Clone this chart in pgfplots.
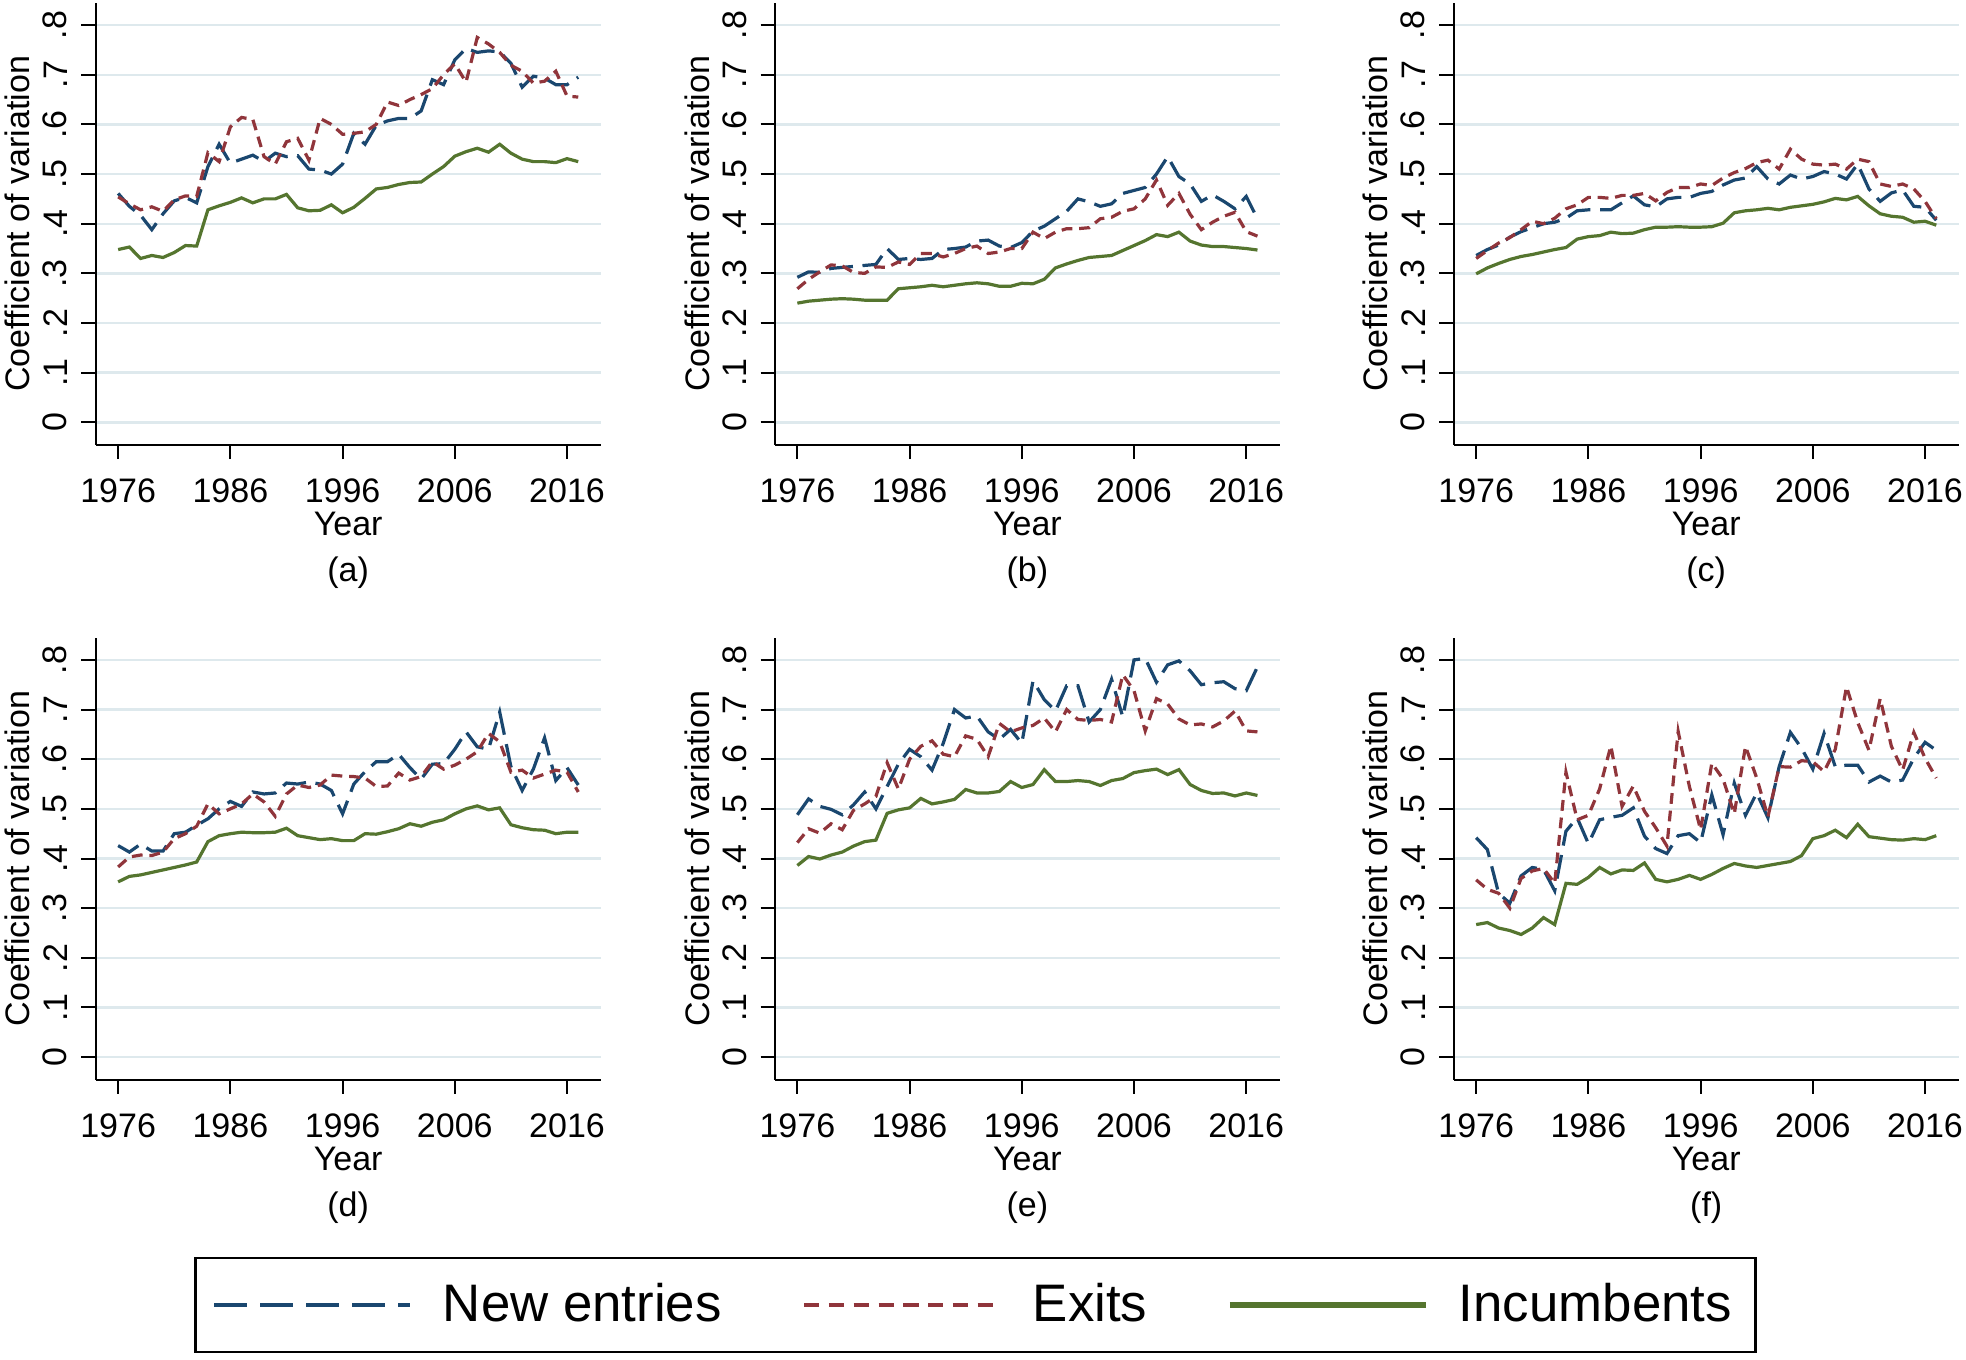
\documentclass[border=0pt]{standalone}
\usepackage{fontspec}
\setmainfont{Liberation Sans}
\usepackage{pgfplots}
\usepackage{pgfplotstable}
\pgfplotsset{compat=1.18}

\definecolor{snavy}{RGB}{26,71,111}
\definecolor{smaroon}{RGB}{144,53,59}
\definecolor{sgreen}{RGB}{85,117,47}
\definecolor{sgrid}{RGB}{222,233,237}
\newcommand\labfont{\fontsize{8.5}{10}\selectfont}

\pgfplotstableread{
year new exit inc
1976 .461 .454 .348
1977 .435 .440 .353
1978 .417 .428 .330
1979 .388 .434 .336
1980 .420 .425 .332
1981 .446 .448 .342
1982 .453 .456 .356
1983 .442 .455 .355
1984 .515 .543 .428
1985 .560 .525 .436
1986 .522 .595 .443
1987 .530 .614 .452
1988 .538 .610 .442
1989 .525 .535 .450
1990 .542 .520 .450
1991 .535 .565 .459
1992 .537 .572 .432
1993 .510 .528 .426
1994 .508 .612 .427
1995 .500 .600 .438
1996 .520 .580 .422
1997 .582 .582 .433
1998 .560 .585 .451
1999 .598 .600 .470
2000 .607 .645 .473
2001 .612 .638 .479
2002 .612 .650 .483
2003 .627 .660 .484
2004 .690 .672 .500
2005 .680 .700 .515
2006 .730 .722 .536
2007 .753 .685 .545
2008 .745 .775 .552
2009 .748 .762 .544
2010 .746 .745 .560
2011 .723 .719 .542
2012 .675 .707 .530
2013 .697 .683 .525
2014 .693 .687 .525
2015 .680 .707 .523
2016 .680 .657 .531
2017 .695 .655 .525
}\tA

\pgfplotstableread{
year new exit inc
1976 .292 .269 .240
1977 .303 .288 .244
1978 .302 .303 .246
1979 .310 .317 .248
1980 .312 .315 .249
1981 .314 .302 .248
1982 .316 .300 .246
1983 .318 .313 .246
1984 .350 .312 .246
1985 .328 .323 .269
1986 .330 .318 .271
1987 .328 .340 .273
1988 .330 .340 .276
1989 .348 .333 .273
1990 .350 .340 .276
1991 .353 .350 .279
1992 .365 .355 .281
1993 .367 .340 .279
1994 .355 .343 .274
1995 .352 .350 .274
1996 .362 .350 .280
1997 .385 .383 .279
1998 .395 .370 .288
1999 .410 .383 .311
2000 .425 .390 .319
2001 .450 .390 .326
2002 .444 .392 .332
2003 .435 .410 .334
2004 .440 .413 .336
2005 .461 .425 .346
2006 .467 .430 .356
2007 .473 .450 .366
2008 .500 .488 .378
2009 .535 .437 .374
2010 .495 .461 .383
2011 .480 .419 .365
2012 .445 .388 .357
2013 .458 .403 .354
2014 .445 .415 .354
2015 .430 .423 .352
2016 .455 .384 .350
2017 .410 .375 .347
}\tB

\pgfplotstableread{
year new exit inc
1976 .336 .330 .299
1977 .348 .346 .311
1978 .357 .361 .320
1979 .373 .372 .328
1980 .384 .388 .334
1981 .392 .405 .338
1982 .400 .400 .343
1983 .403 .411 .348
1984 .411 .430 .352
1985 .426 .438 .369
1986 .428 .453 .374
1987 .428 .453 .376
1988 .428 .451 .383
1989 .442 .457 .380
1990 .456 .457 .381
1991 .438 .461 .388
1992 .434 .446 .393
1993 .450 .463 .393
1994 .453 .473 .394
1995 .453 .473 .393
1996 .461 .480 .393
1997 .465 .477 .394
1998 .478 .492 .401
1999 .488 .503 .422
2000 .492 .511 .426
2001 .515 .523 .428
2002 .490 .528 .431
2003 .480 .510 .428
2004 .498 .550 .433
2005 .490 .530 .436
2006 .495 .520 .439
2007 .505 .518 .444
2008 .500 .520 .451
2009 .490 .510 .448
2010 .520 .530 .455
2011 .470 .525 .436
2012 .445 .480 .420
2013 .462 .475 .415
2014 .468 .480 .413
2015 .435 .470 .403
2016 .433 .445 .405
2017 .407 .410 .397
}\tC

\pgfplotstableread{
year new exit inc
1976 .426 .383 .353
1977 .413 .403 .364
1978 .429 .407 .367
1979 .415 .406 .372
1980 .415 .413 .377
1981 .450 .440 .382
1982 .453 .450 .387
1983 .467 .465 .393
1984 .480 .510 .434
1985 .500 .490 .446
1986 .515 .500 .450
1987 .505 .510 .453
1988 .534 .530 .452
1989 .530 .514 .452
1990 .532 .485 .453
1991 .552 .530 .461
1992 .550 .548 .446
1993 .554 .543 .442
1994 .550 .548 .438
1995 .537 .568 .440
1996 .490 .566 .436
1997 .550 .565 .436
1998 .575 .562 .450
1999 .595 .545 .449
2000 .595 .546 .454
2001 .610 .572 .460
2002 .583 .558 .470
2003 .560 .565 .465
2004 .590 .595 .473
2005 .591 .580 .478
2006 .620 .588 .490
2007 .655 .600 .500
2008 .625 .615 .506
2009 .620 .652 .498
2010 .695 .635 .502
2011 .585 .574 .468
2012 .537 .578 .462
2013 .580 .562 .458
2014 .643 .570 .457
2015 .557 .578 .450
2016 .583 .574 .453
2017 .548 .534 .453
}\tD

\pgfplotstableread{
year new exit inc
1976 .488 .432 .386
1977 .520 .460 .404
1978 .505 .451 .399
1979 .499 .470 .407
1980 .488 .458 .413
1981 .508 .497 .425
1982 .534 .510 .434
1983 .500 .525 .437
1984 .545 .593 .491
1985 .590 .540 .498
1986 .620 .600 .502
1987 .605 .626 .521
1988 .578 .637 .510
1989 .632 .610 .514
1990 .700 .605 .519
1991 .683 .647 .539
1992 .687 .640 .532
1993 .655 .605 .532
1994 .640 .672 .535
1995 .660 .655 .555
1996 .632 .663 .543
1997 .758 .668 .549
1998 .720 .683 .579
1999 .697 .655 .555
2000 .748 .700 .555
2001 .748 .680 .557
2002 .675 .678 .555
2003 .700 .680 .547
2004 .761 .675 .557
2005 .685 .770 .561
2006 .800 .738 .573
2007 .803 .657 .577
2008 .755 .722 .580
2009 .790 .711 .569
2010 .798 .681 .579
2011 .778 .669 .549
2012 .750 .671 .537
2013 .754 .665 .531
2014 .756 .677 .532
2015 .742 .697 .526
2016 .738 .657 .532
2017 .786 .655 .527
}\tE

\pgfplotstableread{
year new exit inc
1976 .442 .357 .267
1977 .418 .338 .271
1978 .330 .330 .260
1979 .310 .300 .255
1980 .365 .360 .247
1981 .382 .375 .260
1982 .378 .380 .281
1983 .335 .350 .267
1984 .455 .574 .350
1985 .482 .478 .348
1986 .430 .487 .362
1987 .478 .540 .382
1988 .483 .627 .369
1989 .487 .505 .377
1990 .502 .546 .376
1991 .445 .495 .391
1992 .420 .462 .358
1993 .410 .425 .353
1994 .446 .656 .358
1995 .450 .545 .366
1996 .432 .458 .358
1997 .528 .592 .368
1998 .448 .560 .380
1999 .552 .490 .390
2000 .487 .626 .385
2001 .532 .562 .382
2002 .482 .484 .386
2003 .585 .585 .390
2004 .654 .584 .394
2005 .622 .597 .406
2006 .580 .595 .440
2007 .652 .575 .446
2008 .585 .620 .457
2009 .588 .746 .442
2010 .588 .674 .469
2011 .554 .618 .444
2012 .566 .722 .441
2013 .554 .626 .438
2014 .558 .578 .437
2015 .602 .654 .440
2016 .634 .602 .438
2017 .618 .562 .446
}\tF

\pgfplotsset{
  panel/.style={
    scale only axis, width=126.25pt, height=110.5pt,
    anchor=south west,
    xmin=1974, xmax=2019, ymin=-0.045, ymax=0.845,
    axis lines*=left,
    axis line style={-, line width=0.5pt, black},
    tick align=outside, major tick length=3.6pt,
    tick style={line width=0.5pt, black},
    xtick={1976,1986,1996,2006,2016},
    ytick={0,0.1,0.2,0.3,0.4,0.5,0.6,0.7,0.8},
    yticklabels={0,.1,.2,.3,.4,.5,.6,.7,.8},
    minor tick num=0,
    ymajorgrids, major grid style={sgrid, line width=0.6pt},
    /pgf/number format/1000 sep={},
    /pgf/number format/assume math mode=true,
    tick label style={font=\labfont},
    xticklabel style={yshift=-1.4pt},
    yticklabel style={rotate=90, anchor=south},
    xlabel={Year}, ylabel={Coefficient of variation},
    every axis x label/.style={at={(axis description cs:0.5,-0.179)}, anchor=center, font=\labfont},
    every axis y label/.style={at={(axis description cs:-0.1543,0.5)}, rotate=90, anchor=center, font=\labfont},
    every axis title/.style={at={(axis description cs:0.5,-0.29)}, anchor=center, font=\labfont},
  },
  newst/.style={snavy, line width=0.8pt, dash pattern=on 6pt off 2.4pt},
  exitst/.style={smaroon, line width=0.8pt, dash pattern=on 2.7pt off 1.7pt},
  incst/.style={sgreen, line width=0.8pt},
}

\newcommand{\panel}[4]{%
\begin{axis}[panel, at={(#1,#2)}, title={#4}]
\addplot[newst] table[x=year,y=new]{#3};
\addplot[exitst] table[x=year,y=exit]{#3};
\addplot[incst] table[x=year,y=inc]{#3};
\end{axis}}

\begin{document}
\begin{tikzpicture}
\path[use as bounding box] (0,0) rectangle (491.5pt,339.75pt);
\panel{23.925pt}{228.575pt}{\tA}{(a)}
\panel{193.725pt}{228.575pt}{\tB}{(b)}
\panel{363.425pt}{228.575pt}{\tC}{(c)}
\panel{23.925pt}{69.875pt}{\tD}{(d)}
\panel{193.725pt}{69.875pt}{\tE}{(e)}
\panel{363.425pt}{69.875pt}{\tF}{(f)}
\begin{axis}[hide axis, scale only axis, width=1pt, height=1pt,
  xmin=0, xmax=1, ymin=0, ymax=1,
  at={(243.95pt,13.5pt)}, anchor=center,
  legend columns=3,
  legend image code/.code={\draw[#1] (0pt,0pt) -- (49pt,0pt);},
  legend cell align=left,
  legend style={at={(0.5,0.5)}, anchor=center,
    draw=black, line width=0.7pt, fill=white,
    inner xsep=4pt, inner ysep=4.2pt,
    nodes={inner sep=2pt, text depth=0.15em},
    font=\fontsize{13.2}{15}\selectfont,
    /tikz/every odd column/.append style={column sep=5.6pt},
    /tikz/every even column/.append style={column sep=18pt}},
  ]
\addlegendimage{snavy, line width=1.2pt, dash pattern=on 8.2pt off 3.3pt}
\addlegendentry{New entries}
\addlegendimage{smaroon, line width=1.2pt, dash pattern=on 3.8pt off 2.4pt}
\addlegendentry{Exits}
\addlegendimage{sgreen, line width=1.3pt}
\addlegendentry{Incumbents}
\end{axis}
\end{tikzpicture}
\end{document}
